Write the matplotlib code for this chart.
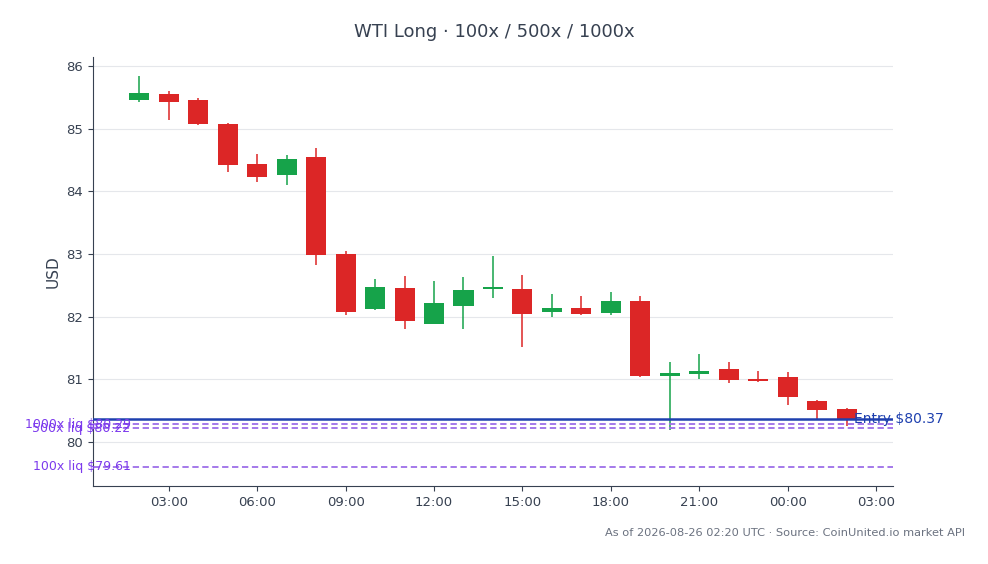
import matplotlib
matplotlib.use("Agg")
from matplotlib import pyplot as plt
import matplotlib.dates as mdates
import numpy as np
import pandas as pd

#### dati ####
times = pd.date_range("2026-08-25 02:00", periods=25, freq="h")
opens  = [85.46, 85.55, 85.46, 85.07, 84.44, 84.26, 84.55, 83.00, 82.12, 82.46, 81.88, 82.17, 82.44,
          82.44, 82.07, 82.14, 82.06, 82.25, 81.05, 81.08, 81.16, 81.01, 81.04, 80.65, 80.53]
highs  = [85.83, 85.60, 85.48, 85.09, 84.59, 84.58, 84.69, 83.05, 82.60, 82.65, 82.57, 82.64, 82.97,
          82.66, 82.37, 82.33, 82.40, 82.33, 81.28, 81.41, 81.28, 81.14, 81.12, 80.67, 80.55]
lows   = [85.43, 85.14, 85.06, 84.30, 84.14, 84.10, 82.82, 82.03, 82.11, 81.80, 81.88, 81.80, 82.30,
          81.52, 81.99, 82.03, 82.03, 81.04, 80.19, 81.00, 80.95, 80.96, 80.59, 80.35, 80.26]
closes = [85.57, 85.43, 85.08, 84.42, 84.23, 84.51, 82.99, 82.08, 82.47, 81.93, 82.22, 82.42, 82.47,
          82.04, 82.14, 82.04, 82.25, 81.05, 81.11, 81.13, 80.99, 80.98, 80.72, 80.52, 80.37]

entry = 80.37
liq_labels = ["1000x liq $80.29", "500x liq $80.22", "100x liq $79.61"]
liq_prices = [80.29, 80.22, 79.61]

title = "WTI Long \u00b7 100x / 500x / 1000x"
footnote = "As of 2026-08-26 02:20 UTC \u00b7 Source: CoinUnited.io market API"
####	####	####

green = "#16a34a"
red = "#dc2626"
txt = "#374151"

fig = plt.figure(figsize=(9.88, 5.64), dpi=100)
ax = fig.add_subplot(1, 1, 1)

x = mdates.date2num(times.to_pydatetime())
o = np.array(opens); c = np.array(closes)
cols = [green if cc >= oo else red for oo, cc in zip(o, c)]
width = 0.68 / 24

ax.vlines(x, lows, highs, colors=cols, linewidth=1.1, zorder=2)
ax.bar(x, np.abs(c - o), bottom=np.minimum(o, c), width=width, color=cols, zorder=3)

# entry e liquidazioni
ax.axhline(entry, color="#1e40af", linewidth=1.8, zorder=4)
ax.text(x[-1] + 0.25 / 24, entry, "Entry $%.2f" % entry, color="#1e40af", fontsize=10,
        ha="left", va="center", zorder=5)
for lab, p in zip(liq_labels, liq_prices):
    ax.axhline(p, color="#9d6ee8", linestyle=(0, (3.5, 2)), linewidth=1.3, zorder=4)
    ax.text(x[0] - 0.3 / 24, p, lab, color="#7c3aed", fontsize=9, ha="right", va="center", zorder=5)

ax.xaxis.set_major_locator(mdates.HourLocator(byhour=range(0, 24, 3)))
ax.xaxis.set_major_formatter(mdates.DateFormatter("%H:%M"))

ax.grid(True, axis="y", color="#e5e7eb", linewidth=0.8)
ax.set_axisbelow(True)
for s in ["top", "right"]:
    ax.spines[s].set_visible(False)
for s in ["left", "bottom"]:
    ax.spines[s].set_color(txt)
ax.tick_params(colors=txt, labelsize=9.5)
ax.set_ylabel("USD", color=txt, fontsize=11)

fig.text(0.5, 0.943, title, ha="center", va="center", fontsize=13, color=txt)
fig.text(0.977, 0.055, footnote, ha="right", va="center", fontsize=8.2, color="#6b7280")

fig.subplots_adjust(left=0.0941, right=0.9038, top=0.899, bottom=0.138)
fig.savefig("out.png", dpi=100)
